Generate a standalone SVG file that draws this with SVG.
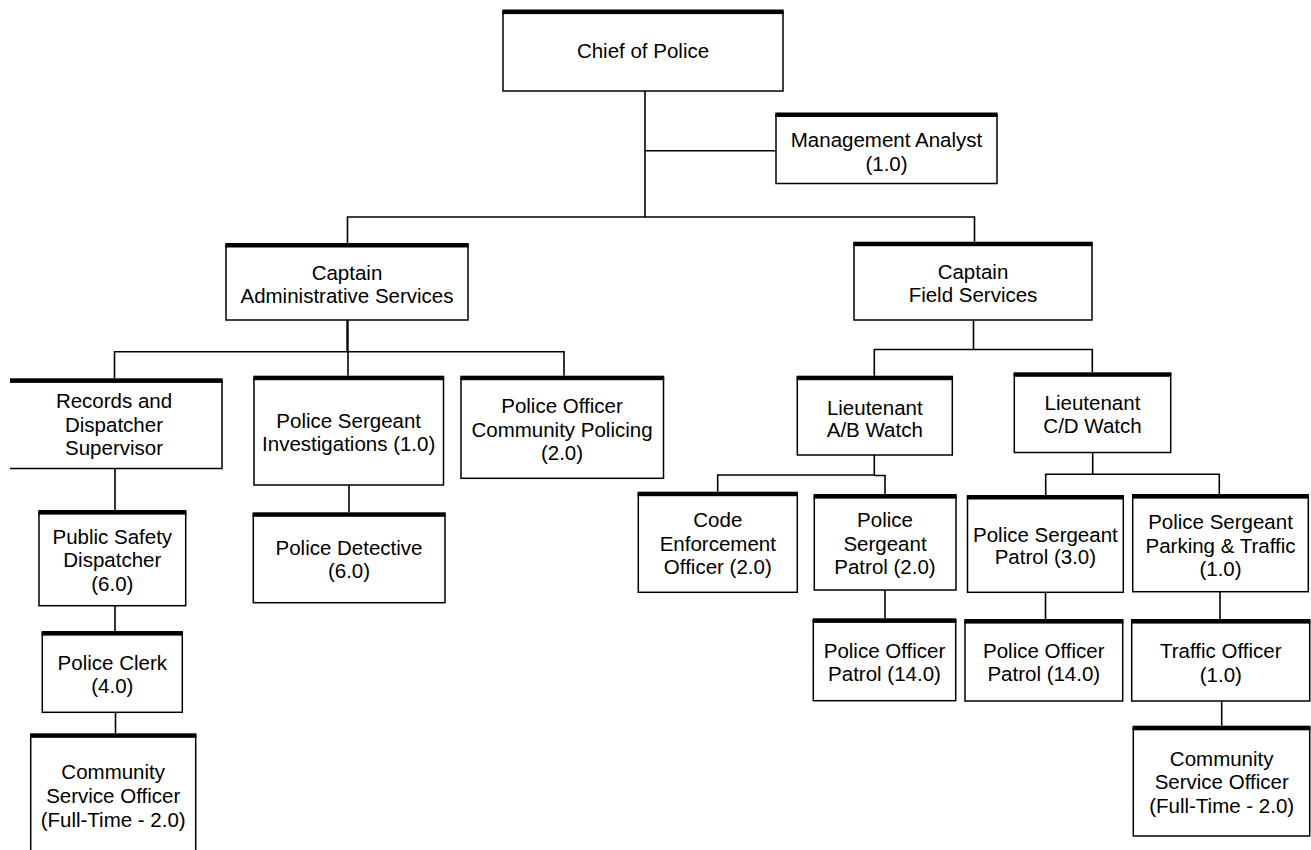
<svg xmlns="http://www.w3.org/2000/svg" width="1311" height="850" viewBox="0 0 1311 850">
<style>
.box{fill:#fff;stroke:#000;stroke-width:1.5}
.bar{fill:#000}
.t{font-family:"Liberation Sans",Arial,sans-serif;font-size:20.5px;text-anchor:middle;fill:#000}
.c{fill:none;stroke:#000;stroke-width:1.6}
</style>
<rect width="1311" height="850" fill="#fff"/>
<g id="connectors">
<path class="c" d="M645,91 V217"/>
<path class="c" d="M645,150.7 H776"/>
<path class="c" d="M347.5,243 V217 H974.5 V241.7"/>
<path class="c" d="M347.5,320 V351.7" style="stroke-width:2.4"/>
<path class="c" d="M114.5,378.3 V351.7 H564 V375.7"/>
<path class="c" d="M348,351.7 V375.7"/>
<path class="c" d="M115,468.5 V510"/>
<path class="c" d="M115,605.7 V631"/>
<path class="c" d="M115.5,712.3 V733.3"/>
<path class="c" d="M349,485 V512.3"/>
<path class="c" d="M973.5,320 V349.5"/>
<path class="c" d="M874.3,375.7 V349.5 H1092.3 V372.3"/>
<path class="c" d="M874.3,455 V475 H717.7 V491.7"/>
<path class="c" d="M874.3,475.5 H885 V494"/>
<path class="c" d="M885,590 V618.3"/>
<path class="c" d="M1092.7,452.5 V474.3"/>
<path class="c" d="M1045.7,495 V474.3 H1219.3 V494"/>
<path class="c" d="M1045.5,592.3 V619"/>
<path class="c" d="M1220,591.7 V619"/>
<path class="c" d="M1221.7,701 V725.7"/>
</g>
<g id="chief">
<rect class="box" x="503" y="12" width="280" height="79"/>
<rect class="bar" x="502.3" y="9.5" width="281.4" height="4.6"/>
<text class="t" x="643" y="58">Chief of Police</text>
</g>
<g id="mgmt">
<rect class="box" x="776" y="115" width="221" height="68.5"/>
<rect class="bar" x="775.3" y="112.5" width="222.4" height="4.5"/>
<text class="t" x="886.5" y="146.7">Management Analyst</text>
<text class="t" x="886.5" y="170.7">(1.0)</text>
</g>
<g id="capAdmin">
<rect class="box" x="226" y="245" width="242" height="75"/>
<rect class="bar" x="225.3" y="243" width="243.4" height="4.5"/>
<text class="t" x="347" y="280">Captain</text>
<text class="t" x="347" y="302.7">Administrative Services</text>
</g>
<g id="capField">
<rect class="box" x="854" y="244" width="238" height="76"/>
<rect class="bar" x="853.3" y="241.7" width="239.4" height="4.5"/>
<text class="t" x="973" y="279.3">Captain</text>
<text class="t" x="973" y="301.7">Field Services</text>
</g>
<g id="records">
<path class="box" d="M10,381 H222 V468.5 H10"/>
<rect class="bar" x="10" y="378.3" width="212.7" height="4.6"/>
<text class="t" x="114" y="408.3">Records and</text>
<text class="t" x="114" y="431.7">Dispatcher</text>
<text class="t" x="114" y="455">Supervisor</text>
</g>
<g id="sgtInv">
<rect class="box" x="254" y="378" width="189.5" height="107"/>
<rect class="bar" x="253.3" y="375.7" width="190.9" height="4.5"/>
<text class="t" x="348.7" y="428.3">Police Sergeant</text>
<text class="t" x="348.7" y="450.7">Investigations (1.0)</text>
</g>
<g id="poComm">
<rect class="box" x="461" y="378" width="202.5" height="100.3"/>
<rect class="bar" x="460.3" y="375.7" width="203.9" height="4.5"/>
<text class="t" x="562" y="413.3">Police Officer</text>
<text class="t" x="562" y="436.7">Community Policing</text>
<text class="t" x="562" y="460">(2.0)</text>
</g>
<g id="ltAB">
<rect class="box" x="797.3" y="378" width="155" height="77"/>
<rect class="bar" x="796.6" y="375.7" width="156.4" height="4.5"/>
<text class="t" x="874.8" y="415">Lieutenant</text>
<text class="t" x="874.8" y="436.7">A/B Watch</text>
</g>
<g id="ltCD">
<rect class="box" x="1014.3" y="374.5" width="156.4" height="78"/>
<rect class="bar" x="1013.6" y="372.3" width="157.8" height="4.5"/>
<text class="t" x="1092.5" y="410">Lieutenant</text>
<text class="t" x="1092.5" y="432.7">C/D Watch</text>
</g>
<g id="dispatcher">
<rect class="box" x="39" y="512.3" width="146.7" height="93.4"/>
<rect class="bar" x="38.3" y="510" width="148.1" height="4.6"/>
<text class="t" x="112.3" y="544">Public Safety</text>
<text class="t" x="112.3" y="567.3">Dispatcher</text>
<text class="t" x="112.3" y="591">(6.0)</text>
</g>
<g id="clerk">
<rect class="box" x="42.3" y="633.3" width="140" height="79"/>
<rect class="bar" x="41.6" y="631" width="141.4" height="4.6"/>
<text class="t" x="112.3" y="670">Police Clerk</text>
<text class="t" x="112.3" y="693.3">(4.0)</text>
</g>
<g id="csoLeft">
<rect class="box" x="30.7" y="735.5" width="165" height="125"/>
<rect class="bar" x="30" y="733.3" width="166.4" height="4.5"/>
<text class="t" x="113.2" y="779.3">Community</text>
<text class="t" x="113.2" y="802.7">Service Officer</text>
<text class="t" x="113.2" y="826.7">(Full-Time - 2.0)</text>
</g>
<g id="detective">
<rect class="box" x="253.3" y="514.5" width="191.7" height="88.2"/>
<rect class="bar" x="252.6" y="512.3" width="193.1" height="4.5"/>
<text class="t" x="349" y="555">Police Detective</text>
<text class="t" x="349" y="578.3">(6.0)</text>
</g>
<g id="codeEnf">
<rect class="box" x="638.3" y="494" width="159" height="98.3"/>
<rect class="bar" x="637.6" y="491.7" width="160.4" height="4.5"/>
<text class="t" x="717.8" y="527.3">Code</text>
<text class="t" x="717.8" y="550.7">Enforcement</text>
<text class="t" x="717.8" y="574">Officer (2.0)</text>
</g>
<g id="sgtPatrol2">
<rect class="box" x="814.3" y="496.3" width="141.7" height="93.7"/>
<rect class="bar" x="813.6" y="494" width="143.1" height="4.6"/>
<text class="t" x="885" y="527.3">Police</text>
<text class="t" x="885" y="550.7">Sergeant</text>
<text class="t" x="885" y="574">Patrol (2.0)</text>
</g>
<g id="poPatrolA">
<rect class="box" x="813.3" y="620.6" width="142.4" height="80.1"/>
<rect class="bar" x="812.6" y="618.3" width="143.8" height="4.6"/>
<text class="t" x="884.5" y="658.3">Police Officer</text>
<text class="t" x="884.5" y="680.7">Patrol (14.0)</text>
</g>
<g id="sgtPatrol3">
<rect class="box" x="967.5" y="497.2" width="155.8" height="95.1"/>
<rect class="bar" x="966.8" y="495" width="157.2" height="4.5"/>
<text class="t" x="1045.4" y="541.7">Police Sergeant</text>
<text class="t" x="1045.4" y="564">Patrol (3.0)</text>
</g>
<g id="poPatrolB">
<rect class="box" x="965" y="621.3" width="157.7" height="79.7"/>
<rect class="bar" x="964.3" y="619" width="159.1" height="4.6"/>
<text class="t" x="1043.8" y="658.3">Police Officer</text>
<text class="t" x="1043.8" y="680.7">Patrol (14.0)</text>
</g>
<g id="sgtParking">
<rect class="box" x="1132.7" y="496.3" width="175.6" height="95.4"/>
<rect class="bar" x="1132" y="494" width="177" height="4.6"/>
<text class="t" x="1220.5" y="529.3">Police Sergeant</text>
<text class="t" x="1220.5" y="552.7">Parking &amp; Traffic</text>
<text class="t" x="1220.5" y="576">(1.0)</text>
</g>
<g id="traffic">
<rect class="box" x="1131.7" y="621.3" width="178" height="79.7"/>
<rect class="bar" x="1131" y="619" width="179.4" height="4.6"/>
<text class="t" x="1220.8" y="658.3">Traffic Officer</text>
<text class="t" x="1220.8" y="681.7">(1.0)</text>
</g>
<g id="csoRight">
<rect class="box" x="1133.3" y="728" width="176.4" height="108"/>
<rect class="bar" x="1132.6" y="725.7" width="177.8" height="4.6"/>
<text class="t" x="1221.7" y="766">Community</text>
<text class="t" x="1221.7" y="789.3">Service Officer</text>
<text class="t" x="1221.7" y="812.7">(Full-Time - 2.0)</text>
</g>
</svg>
